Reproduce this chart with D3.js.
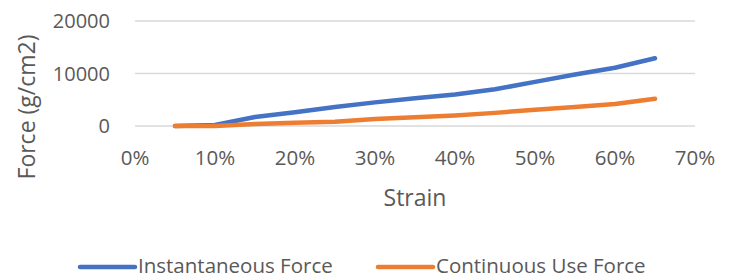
<!DOCTYPE html>
<html>
<head>
<meta charset="utf-8">
<script src="https://cdn.jsdelivr.net/npm/d3@7"></script>
<style>
  body { margin: 0; background: #fff; }
  svg { display: block; font-family: "Open Sans", sans-serif; }
</style>
</head>
<body>
<svg id="chart" width="734" height="279"></svg>
<script>
// strain values (fraction)
const strain = [0.05, 0.10, 0.15, 0.20, 0.25, 0.30, 0.35, 0.40, 0.45, 0.50, 0.55, 0.60, 0.65];
const instantaneous = [0, 200, 1700, 2600, 3600, 4500, 5300, 6000, 7000, 8400, 9800, 11100, 12900];
const continuous = [0, 0, 400, 600, 800, 1350, 1650, 2000, 2500, 3100, 3600, 4200, 5200];
const xTicks = [0, 0.1, 0.2, 0.3, 0.4, 0.5, 0.6, 0.7];
const yTicks = [0, 10000, 20000];
const seriesNames = ["Instantaneous Force", "Continuous Use Force"];
const seriesColors = ["#4472C4", "#ED7D31"];

const svg = d3.select("#chart");
const margin = { top: 21, right: 39, bottom: 153, left: 135 };
const width = 734 - margin.left - margin.right;
const height = 279 - margin.top - margin.bottom;

const x = d3.scaleLinear().domain([0, 0.7]).range([0, width]);
const y = d3.scaleLinear().domain([0, 20000]).range([height, 0]);

const g = svg.append("g").attr("transform", `translate(${margin.left},${margin.top})`);

// gridlines
g.append("g")
  .selectAll("line")
  .data(yTicks)
  .join("line")
  .attr("x1", 0)
  .attr("x2", width)
  .attr("y1", (d) => y(d))
  .attr("y2", (d) => y(d))
  .attr("stroke", "#d9d9d9")
  .attr("stroke-width", 1.5);

// y axis labels
g.append("g")
  .selectAll("text")
  .data(yTicks)
  .join("text")
  .attr("x", -25)
  .attr("y", (d) => y(d))
  .attr("dy", "0.35em")
  .attr("text-anchor", "end")
  .attr("fill", "#595959")
  .attr("font-size", 20)
  .text((d) => d);

// x axis labels
g.append("g")
  .selectAll("text")
  .data(xTicks)
  .join("text")
  .attr("x", (d) => x(d))
  .attr("y", height + 39)
  .attr("text-anchor", "middle")
  .attr("fill", "#595959")
  .attr("font-size", 20.5)
  .text((d) => d3.format(".0%")(d));

// axis titles
svg.append("text")
  .attr("transform", `translate(35,107) rotate(-90)`)
  .attr("text-anchor", "middle")
  .attr("fill", "#595959")
  .attr("font-size", 23)
  .text("Force (g/cm2)");

svg.append("text")
  .attr("x", margin.left + width / 2)
  .attr("y", 206)
  .attr("text-anchor", "middle")
  .attr("fill", "#595959")
  .attr("font-size", 23)
  .text("Strain");

// lines
const line = d3.line()
  .x((d) => x(d[0]))
  .y((d) => y(d[1]));

[instantaneous, continuous].forEach((vals, i) => {
  g.append("path")
    .datum(d3.zip(strain, vals))
    .attr("fill", "none")
    .attr("stroke", seriesColors[i])
    .attr("stroke-width", 4.5)
    .attr("stroke-linecap", "round")
    .attr("stroke-linejoin", "round")
    .attr("d", line);
});

// legend
const legendX = [80, 378];
const legend = svg.append("g");
seriesNames.forEach((name, i) => {
  legend.append("line")
    .attr("x1", legendX[i])
    .attr("x2", legendX[i] + 55)
    .attr("y1", 267)
    .attr("y2", 267)
    .attr("stroke", seriesColors[i])
    .attr("stroke-width", 4.5)
    .attr("stroke-linecap", "round");
  legend.append("text")
    .attr("x", legendX[i] + 58)
    .attr("y", 273)
    .attr("fill", "#595959")
    .attr("font-size", 20.5)
    .text(name);
});
</script>
</body>
</html>
